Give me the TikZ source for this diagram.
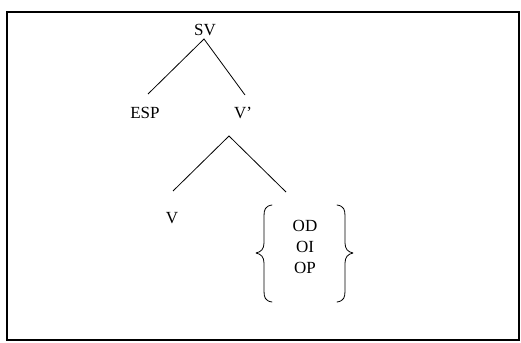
\documentclass[tikz,border=0pt]{standalone}
\usepackage{fontspec}
\setmainfont{Liberation Serif}
\begin{document}
\begin{tikzpicture}[x=1pt,y=-1pt,
  lab/.style={inner sep=0pt,font=\fontsize{17}{20}\selectfont},
  branch/.style={line width=0.8pt},
  brace/.style={line width=0.8pt,line cap=round,line join=round},
  frame/.style={line width=1.5pt}]
\useasboundingbox (0,0) rectangle (521,342);
\draw[frame] (7,12) rectangle (519,340);
% nodes
\node[lab] (sv) at (205,30) {SV};
\node[lab] (esp) at (145,113) {ESP};
\node[lab] (vbar) at (243,113) {V'};
\node[lab] (v) at (172,218) {V};
\node[lab] (od) at (305,226) {OD};
\node[lab] (oi) at (305,247) {OI};
\node[lab] (op) at (305,268) {OP};
% joints
\coordinate (sv-apex) at (204,39);
\coordinate (esp-top) at (148,94);
\coordinate (vbar-top) at (245,95);
\coordinate (vbar-apex) at (229,136);
\coordinate (v-top) at (173,191);
\coordinate (obj-top) at (286,192);
\draw[branch] (esp-top) -- (sv-apex) -- (vbar-top);
\draw[branch] (v-top) -- (vbar-apex) -- (obj-top);
% braces
\draw[brace] (272,205) .. controls (265,206) and (264,210) .. (264,216)
  -- (264,243) .. controls (264,249) and (261,252) .. (256,253)
  .. controls (261,254) and (264,257) .. (264,263)
  -- (264,291) .. controls (264,297) and (265,301) .. (272,302);
\draw[brace] (337,205) .. controls (344,206) and (345,210) .. (345,216)
  -- (345,243) .. controls (345,249) and (348,252) .. (353,253)
  .. controls (348,254) and (345,257) .. (345,263)
  -- (345,291) .. controls (345,297) and (344,301) .. (337,302);
\end{tikzpicture}
\end{document}
